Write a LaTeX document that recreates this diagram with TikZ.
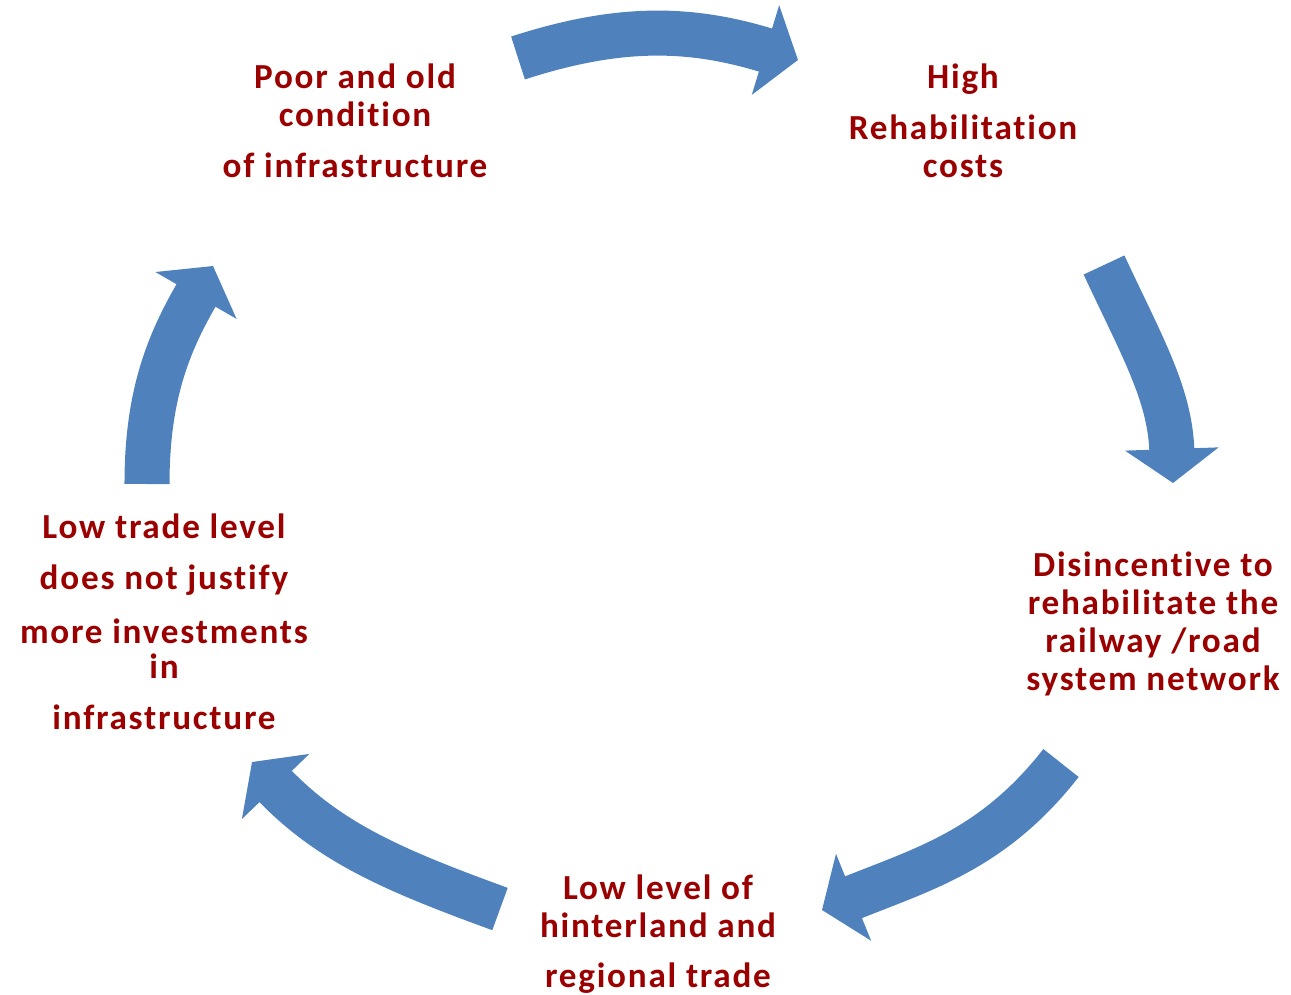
\documentclass[tikz,border=0pt]{standalone}
\usepackage{fontspec}
\setmainfont{Carlito}[LetterSpace=5,Ligatures=NoCommon]
\usetikzlibrary{arrows.meta}
\definecolor{cyclered}{RGB}{155,0,0}
\definecolor{cycleblue}{RGB}{79,129,189}
\tikzstyle{cause}=[text=cyclered,align=center,inner sep=0pt,
  font=\bfseries\fontsize{10}{10.8}\selectfont]

\begin{document}
\begin{tikzpicture}[x=0.01cm,y=-0.01cm]
\tikzstyle{cyclearrow}=[draw=cycleblue,line width=4.5mm,
  -{Triangle[width=9.2mm,length=3.4mm]}]
\useasboundingbox (0,0) rectangle (1291,994);
  % the five stages
  \node[cause] (poor) at (355,121) {Poor and old\\condition\\[0.13cm]of infrastructure};
  \node[cause] (high) at (963,121) {High\\[0.13cm]Rehabilitation\\costs};
  \node[cause] (disinc) at (1153,624) {Disincentive to\\rehabilitate the\\railway /road\\system network};
  \node[cause] (lowlevel) at (658,934) {Low level of\\hinterland and\\[0.12cm]regional trade};
  \node[cause] (lowtrade) at (164,622) {Low trade level\\[0.13cm]does not justify\\[0.16cm]more investments\\[-0.03cm]in\\[0.13cm]infrastructure};
  % ends of the arrows
  \coordinate (s1) at (518,58);   \coordinate (e1) at (798,60);
  \coordinate (s2) at (1104,265); \coordinate (e2) at (1173,483);
  \coordinate (s3) at (1061,763); \coordinate (e3) at (822,910);
  \coordinate (s4) at (500,909);  \coordinate (e4) at (252,762);
  \coordinate (s5) at (147,484);  \coordinate (e5) at (213,266);
  \draw[cyclearrow] (s1) to[out=18,in=163] (e1);
  \draw[cyclearrow] (s2) to[out=-65,in=92] (e2);
  \draw[cyclearrow] (s3) to[out=-128,in=22] (e3);
  \draw[cyclearrow] (s4) to[out=160,in=-46] (e4);
  \draw[cyclearrow] (s5) to[out=90,in=240] (e5);
\end{tikzpicture}
\end{document}
